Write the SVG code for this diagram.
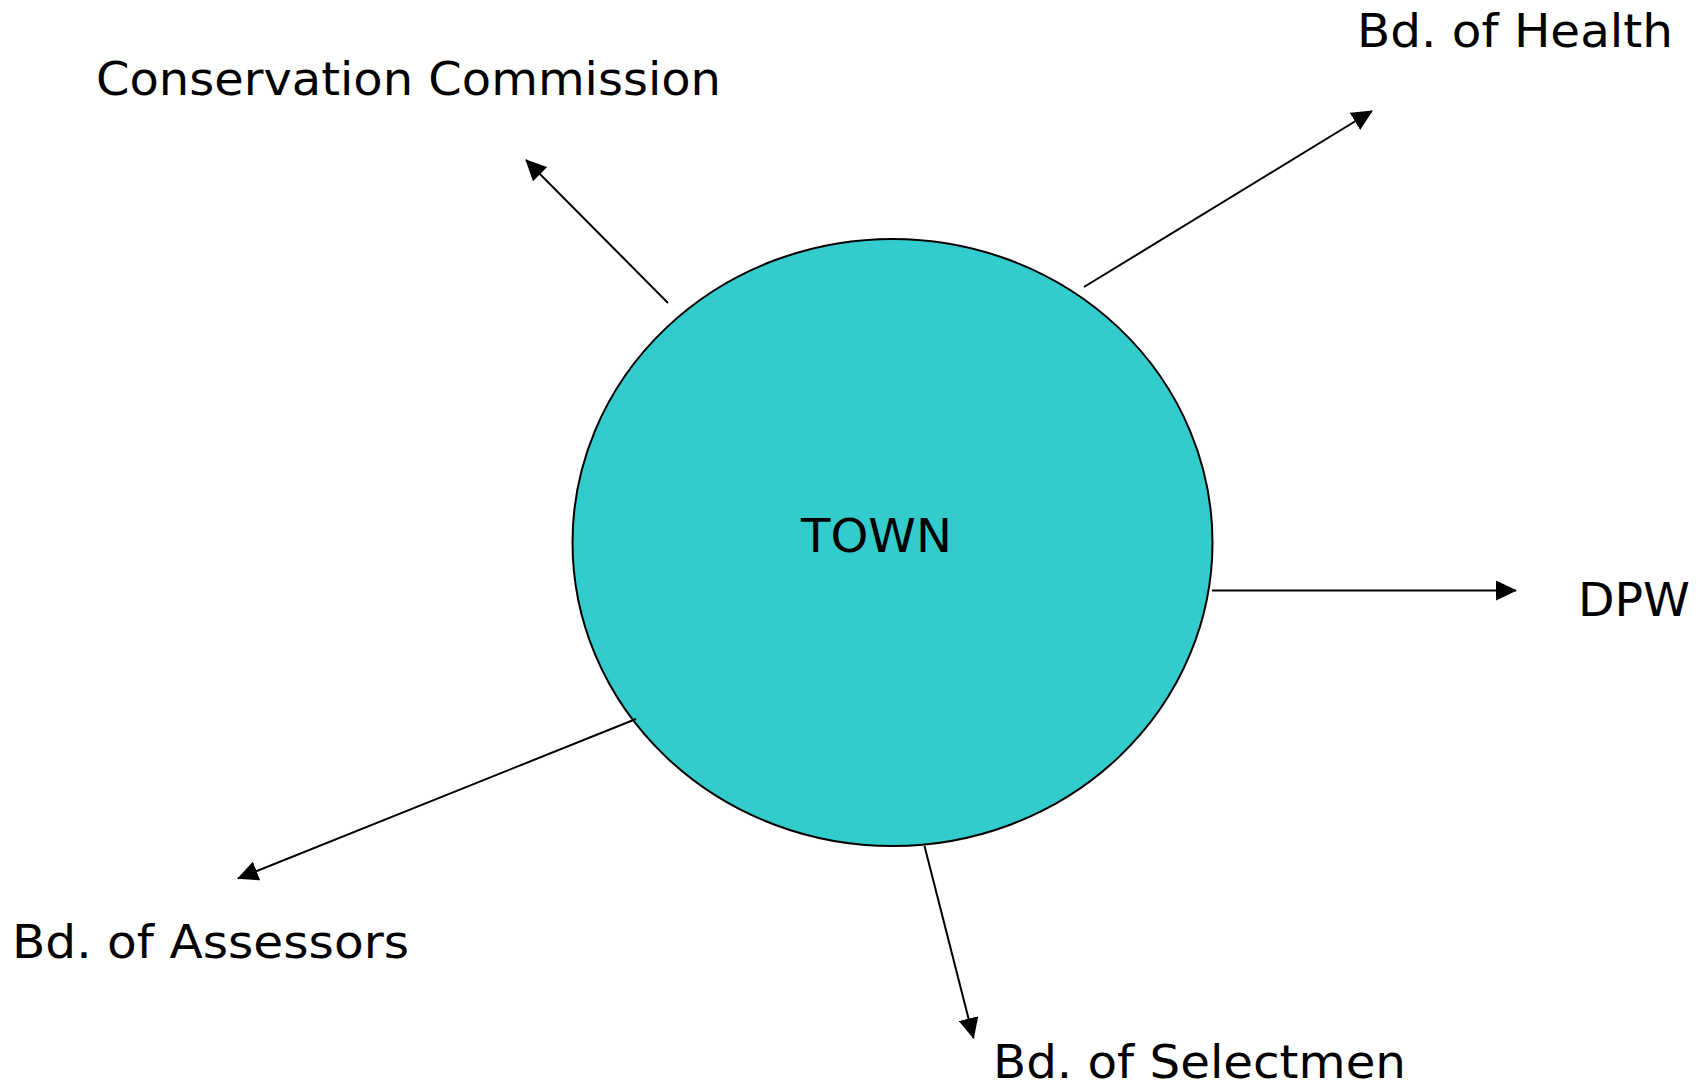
<svg xmlns="http://www.w3.org/2000/svg" width="1700" height="1089" viewBox="0 0 1700 1089">
  <style>
    .label { font-family: "DejaVu Sans", Verdana, "Liberation Sans", sans-serif; font-size: 47px; fill: #000; }
    .link { stroke: #000; stroke-width: 2; fill: none; marker-end: url(#head); }
    .hub { fill: #33CCCC; stroke: #000; stroke-width: 2; }
  </style>
  <defs>
    <marker id="head" markerUnits="userSpaceOnUse" markerWidth="22" markerHeight="20" refX="20" refY="10" orient="auto">
      <path d="M0,0 L21,10 L0,20 z" fill="#000"/>
    </marker>
  </defs>

  <rect width="1700" height="1089" fill="#fff"/>

  <!-- central node -->
  <g id="town">
    <ellipse class="hub" cx="892.5" cy="542.5" rx="320" ry="303.5"/>
    <text class="label" x="801" y="552" textLength="151" lengthAdjust="spacingAndGlyphs">TOWN</text>
  </g>

  <!-- outgoing connectors -->
  <g id="connectors">
    <line class="link" x1="668" y1="303" x2="526" y2="160"/>
    <line class="link" x1="1084" y1="287" x2="1372" y2="111"/>
    <line class="link" x1="1212" y1="590.5" x2="1516" y2="590.5"/>
    <line class="link" x1="636" y1="719" x2="238" y2="878.5"/>
    <line class="link" x1="924.5" y1="846" x2="973.5" y2="1038"/>
  </g>

  <g id="conservation-commission">
    <text class="label" x="96" y="95" textLength="625" lengthAdjust="spacingAndGlyphs">Conservation Commission</text>
  </g>
  <g id="bd-of-health">
    <text class="label" x="1357" y="47" textLength="316" lengthAdjust="spacingAndGlyphs">Bd. of Health</text>
  </g>
  <g id="dpw">
    <text class="label" x="1578" y="616" textLength="112" lengthAdjust="spacingAndGlyphs">DPW</text>
  </g>
  <g id="bd-of-assessors">
    <text class="label" x="12" y="958" textLength="397" lengthAdjust="spacingAndGlyphs">Bd. of Assessors</text>
  </g>
  <g id="bd-of-selectmen">
    <text class="label" x="993" y="1078" textLength="413" lengthAdjust="spacingAndGlyphs">Bd. of Selectmen</text>
  </g>
</svg>
